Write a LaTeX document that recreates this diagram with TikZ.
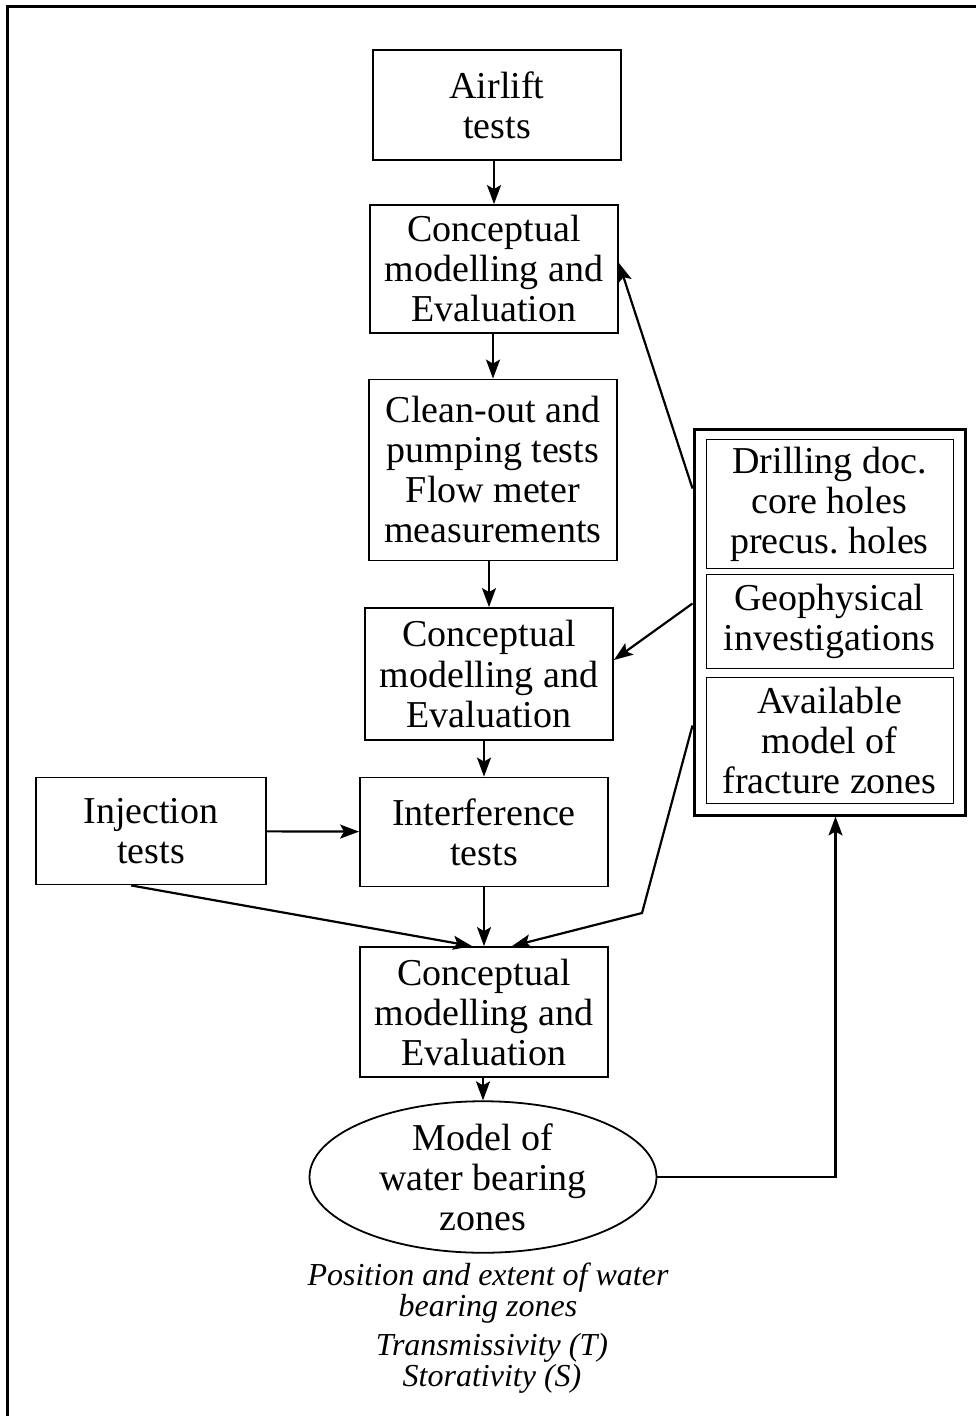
\documentclass[tikz,border=0pt]{standalone}
\usepackage{fontspec}
\setmainfont{Liberation Serif}
\usetikzlibrary{shapes.geometric,arrows.meta}
\begin{document}
\begin{tikzpicture}[x=0.5pt,y=-0.5pt, every node/.style={font=\fontsize{19}{20}\selectfont}]
  \tikzstyle{box}=[draw,line width=0.9pt,align=center,inner sep=2pt,minimum width=124pt]
  \tikzstyle{inbox}=[draw,line width=0.5pt,align=center,inner sep=2pt,minimum width=123.5pt]
  \tikzstyle{arr}=[-{Stealth[length=9.5pt,width=7pt,inset=2pt]},line width=1.1pt]
  \useasboundingbox (0,0) rectangle (976,1416);
  \draw[line width=1.5pt] (7,1416) -- (7,7) -- (976,7);
  % main column
  \node[box,minimum height=55pt] (airlift) at (497,105) {Airlift\\tests};
  \node[box,minimum height=64pt] (concA) at (494,269) {Conceptual\\modelling and\\Evaluation};
  \node[box,minimum height=90.5pt] (cleanout) at (493,470) {Clean-out and\\pumping tests\\Flow meter\\measurements};
  \node[box,minimum height=66pt] (concB) at (489,674) {Conceptual\\modelling and\\Evaluation};
  \node[box,minimum width=115pt,minimum height=53.5pt] (inject) at (151,831) {Injection\\tests};
  \node[box,minimum height=54.5pt] (interf) at (484,832) {Interference\\tests};
  \node[box,minimum height=65pt] (concC) at (484,1012) {Conceptual\\modelling and\\Evaluation};
  \node[draw,ellipse,line width=0.9pt,align=center,inner sep=0pt,minimum width=173.5pt,minimum height=67.5pt] (model) at (483,1177) {Model of\\water bearing\\zones};
  % data sources
  \node[draw,line width=1.5pt,minimum width=135.5pt,minimum height=192.5pt] (src) at (829.5,622.5) {};
  \node[inbox,minimum height=64pt] (drill) at (829.5,504) {Drilling doc.\\core holes\\precus.\ holes};
  \node[inbox,minimum height=47pt] (geo) at (829.5,621) {Geophysical\\investigations};
  \node[inbox,minimum height=63pt] (avail) at (829.5,740) {Available\\model of\\fracture zones};
  % results
  \node[align=center,font=\fontsize{16}{13.5}\selectfont\itshape] (pos) at (488,1293) {Position and extent of water\\bearing zones};
  \node[align=center,font=\fontsize{16}{13.5}\selectfont\itshape] (ts) at (492,1363) {Transmissivity (T)\\Storativity (S)};
  % arrows
  \draw[arr] (airlift.south -| concA) -- (concA.north);
  \draw[arr] (concA.south -| cleanout) -- (cleanout.north);
  \draw[arr] (cleanout.south -| concB) -- (concB.north);
  \draw[arr] (concB.south -| interf) -- (interf.north);
  \draw[arr] (inject) -- (interf);
  \draw[arr] (interf) -- (concC);
  \draw[arr] (concC.south -| model) -- (model.north);
  \draw[arr] ([xshift=-10pt]inject.south) -- ([xshift=-6pt]concC.north);
  \draw[arr] ([yshift=-30pt]src.north west) -- ([yshift=3pt]concA.east);
  \draw[arr] ([yshift=-87.5pt]src.north west) -- ([yshift=7pt]concB.east);
  \coordinate (bend) at (642,913);
  \draw[arr] ([yshift=-148.5pt]src.north west) -- (bend) -- ([xshift=14pt]concC.north);
  \draw[arr] (model.east) -| ([xshift=3pt]src.south);
\end{tikzpicture}
\end{document}
